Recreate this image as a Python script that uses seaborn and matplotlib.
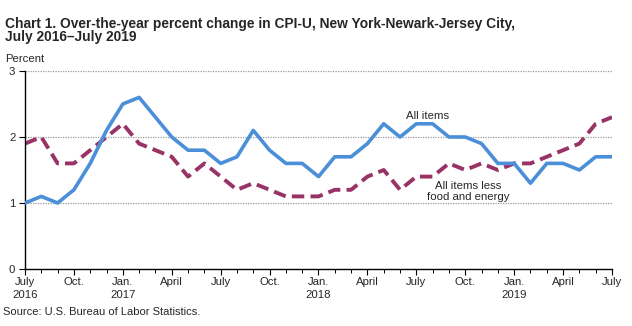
import numpy as np
import pandas as pd
import matplotlib
matplotlib.use("Agg")
import matplotlib.pyplot as plt
import seaborn as sns

# Monthly over-the-year percent change, July 2016 through July 2019
months = pd.date_range("2016-07-01", "2019-07-01", freq="MS")
all_items = [1.0, 1.1, 1.0, 1.2, 1.6, 2.1, 2.5, 2.6, 2.3, 2.0, 1.8, 1.8,
             1.6, 1.7, 2.1, 1.8, 1.6, 1.6, 1.4, 1.7, 1.7, 1.9, 2.2, 2.0,
             2.2, 2.2, 2.0, 2.0, 1.9, 1.6, 1.6, 1.3, 1.6, 1.6, 1.5, 1.7,
             1.7]
core_items = [1.9, 2.0, 1.6, 1.6, 1.8, 2.0, 2.2, 1.9, 1.8, 1.7, 1.4, 1.6,
              1.4, 1.2, 1.3, 1.2, 1.1, 1.1, 1.1, 1.2, 1.2, 1.4, 1.5, 1.2,
              1.4, 1.4, 1.6, 1.5, 1.6, 1.5, 1.6, 1.6, 1.7, 1.8, 1.9, 2.2,
              2.3]
tick_labels = ["July\n2016", "Oct.", "Jan.\n2017", "April", "July", "Oct.",
               "Jan.\n2018", "April", "July", "Oct.", "Jan.\n2019", "April",
               "July"]
y_ticks = [0, 1, 2, 3]

sns.set_theme(style="white")
plt.rcParams["font.family"] = ["Liberation Sans", "DejaVu Sans"]

idx = np.arange(len(months))
df = pd.DataFrame({"m": idx, "all": all_items, "core": core_items})

W, H = 632, 326
fig = plt.figure(figsize=(W / 100, H / 100), dpi=100)
ax = fig.add_axes([25 / W, 1 - 269 / H, (612 - 25) / W, (269 - 71) / H])

for y in y_ticks[1:]:
    ax.axhline(y, color="#9a9a9a", lw=0.9, ls=(0, (1, 1)), zorder=0)

sns.lineplot(data=df, x="m", y="all", ax=ax, color="#4a8fd8", lw=2.6,
             zorder=3)
sns.lineplot(data=df, x="m", y="core", ax=ax, color="#993366", lw=2.8,
             zorder=2)
ax.lines[-1].set_dashes([3.2, 1.6])

ax.set_xlim(0, len(months) - 1)
ax.set_ylim(0, 3)
ax.set_xlabel("")
ax.set_ylabel("")

ax.set_xticks(np.arange(0, len(months), 3))
ax.set_xticklabels(tick_labels, fontsize=8.2, linespacing=1.35)
ax.set_xticks(idx, minor=True)
ax.set_yticks(y_ticks)
ax.set_yticklabels([str(v) for v in y_ticks], fontsize=8.2)
ax.tick_params(axis="x", which="both", direction="out", length=4, width=0.8,
               color="black", bottom=True, pad=2)
ax.tick_params(axis="x", which="minor", length=3, width=0.7)
ax.tick_params(axis="y", direction="out", length=4, width=0.8, left=True,
               color="black", pad=3)

for side in ["top", "right"]:
    ax.spines[side].set_visible(False)
for side in ["left", "bottom"]:
    ax.spines[side].set_color("black")
    ax.spines[side].set_linewidth(1.0)

ax.text(24.7, 2.32, "All items", fontsize=8.2, ha="center", va="center")
ax.text(27.2, 1.18, "All items less\nfood and energy", fontsize=8.2,
        ha="center", va="center", linespacing=1.1)

fig.text(5 / W, 1 - 28 / H,
         "Chart 1. Over-the-year percent change in CPI-U, New York-Newark-Jersey City,",
         fontsize=9.9, fontweight="bold", ha="left", va="baseline")
fig.text(5 / W, 1 - 41 / H, "July 2016\u2013July 2019",
         fontsize=9.9, fontweight="bold", ha="left", va="baseline")
fig.text(5 / W, 1 - 59 / H, "Percent", fontsize=8.2,
         ha="left", va="center")
fig.text(3 / W, 1 - 312 / H, "Source: U.S. Bureau of Labor Statistics.",
         fontsize=8, ha="left", va="center")

fig.savefig("out.png", dpi=100)
